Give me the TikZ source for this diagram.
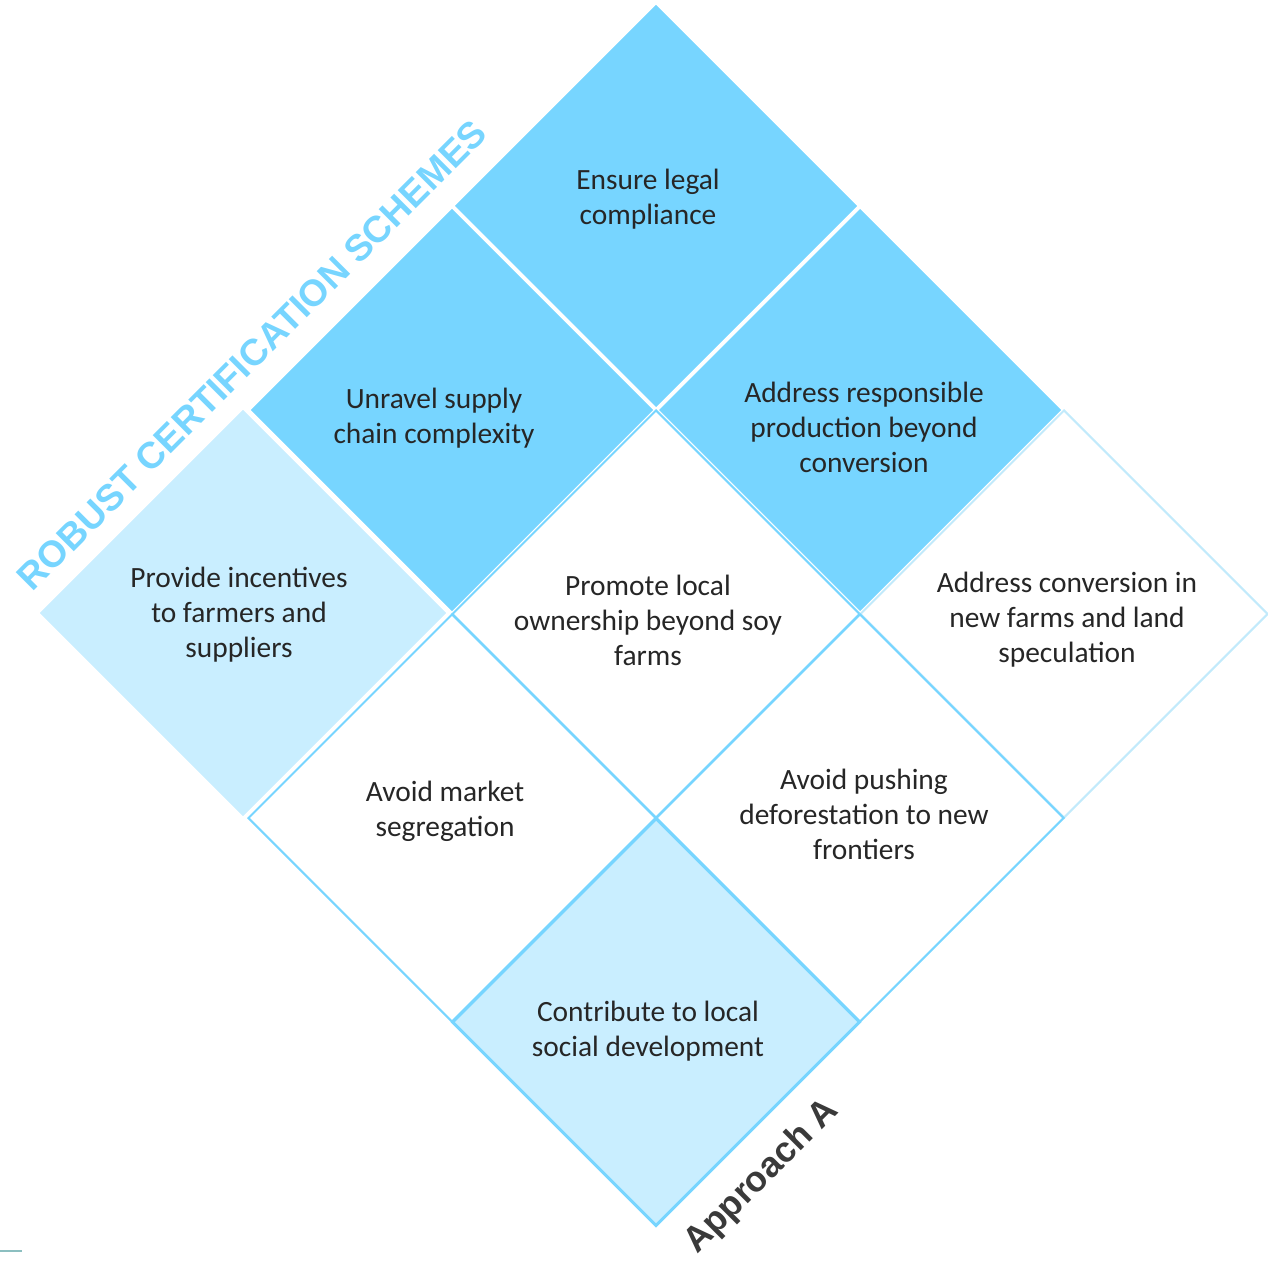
\documentclass[tikz,border=0pt]{standalone}
\usepackage{fontspec}
\setmainfont{Carlito}
\newfontfamily\headfont{Liberation Sans}
\usetikzlibrary{shapes.geometric}
\definecolor{skyblue}{HTML}{77D5FF}
\definecolor{paleblue}{HTML}{C9EEFF}
\definecolor{edgeblue}{HTML}{C2EAFB}
\definecolor{textgray}{HTML}{262626}
\definecolor{titlegray}{HTML}{3A3A3A}
\definecolor{stubteal}{HTML}{8CBFC0}

\begin{document}
\begin{tikzpicture}[x=0.5pt, y=-0.5pt, font=\fontsize{14.7}{17.5}\selectfont, text=textgray]
    \tikzset{
      cell/.style={diamond, aspect=1, minimum width=204pt, minimum height=204pt, inner sep=0pt},
      darkcell/.style={cell, fill=skyblue, draw=white, line width=1.5pt},
      palecell/.style={cell, fill=paleblue, draw=white, line width=1.5pt},
      opencell/.style={cell, fill=white, draw=skyblue, line width=1pt},
      txt/.style={align=center, inner sep=0pt},
      head/.style={font=\headfont\bfseries\fontsize{18.6}{20}\selectfont, rotate=45},
    }
    \useasboundingbox (0,0) rectangle (1268,1261);

    % the nine cells of the grid
    \node[darkcell] (legal) at (656,206) {};
    \node[darkcell] (unravel) at (452,410) {};
    \node[darkcell] (responsible) at (860,410) {};
    \node[palecell, minimum width=206pt, minimum height=206pt] (incentives) at (243,613) {};
    \node[opencell] (ownership) at (656,614) {};
    \node[opencell, draw=edgeblue] (conversion) at (1064,614) {};
    \node[opencell] (market) at (452,818) {};
    \node[opencell] (frontiers) at (860,818) {};
    \node[palecell, draw=skyblue] (social) at (656,1022) {};

    % their texts
    \node[txt] (legal-t) at (648,199) {Ensure legal\\compliance};
    \node[txt] (unravel-t) at (434,418) {Unravel supply\\chain complexity};
    \node[txt] (responsible-t) at (864,427) {Address responsible\\production beyond\\conversion};
    \node[txt] (incentives-t) at (239,615) {Provide incentives\\to farmers and\\suppliers};
    \node[txt] (ownership-t) at (648,620) {Promote local\\ownership beyond soy\\farms};
    \node[txt] (conversion-t) at (1067,620) {Address conversion in\\new farms and land\\speculation};
    \node[txt] (market-t) at (445,811) {Avoid market\\segregation};
    \node[txt] (frontiers-t) at (864,814) {Avoid pushing\\deforestation to new\\frontiers};
    \node[txt] (social-t) at (648,1031) {Contribute to local\\social development};

    \node[head, text=skyblue] (robust) at (252,355) {ROBUST CERTIFICATION SCHEMES};
    \node[head, text=titlegray, font=\headfont\bfseries\fontsize{17.8}{19}\selectfont] (approach) at (762,1177) {Approach A};

    \draw[stubteal, line width=1.2pt] (0,1251) -- (22,1251);
\end{tikzpicture}
\end{document}
